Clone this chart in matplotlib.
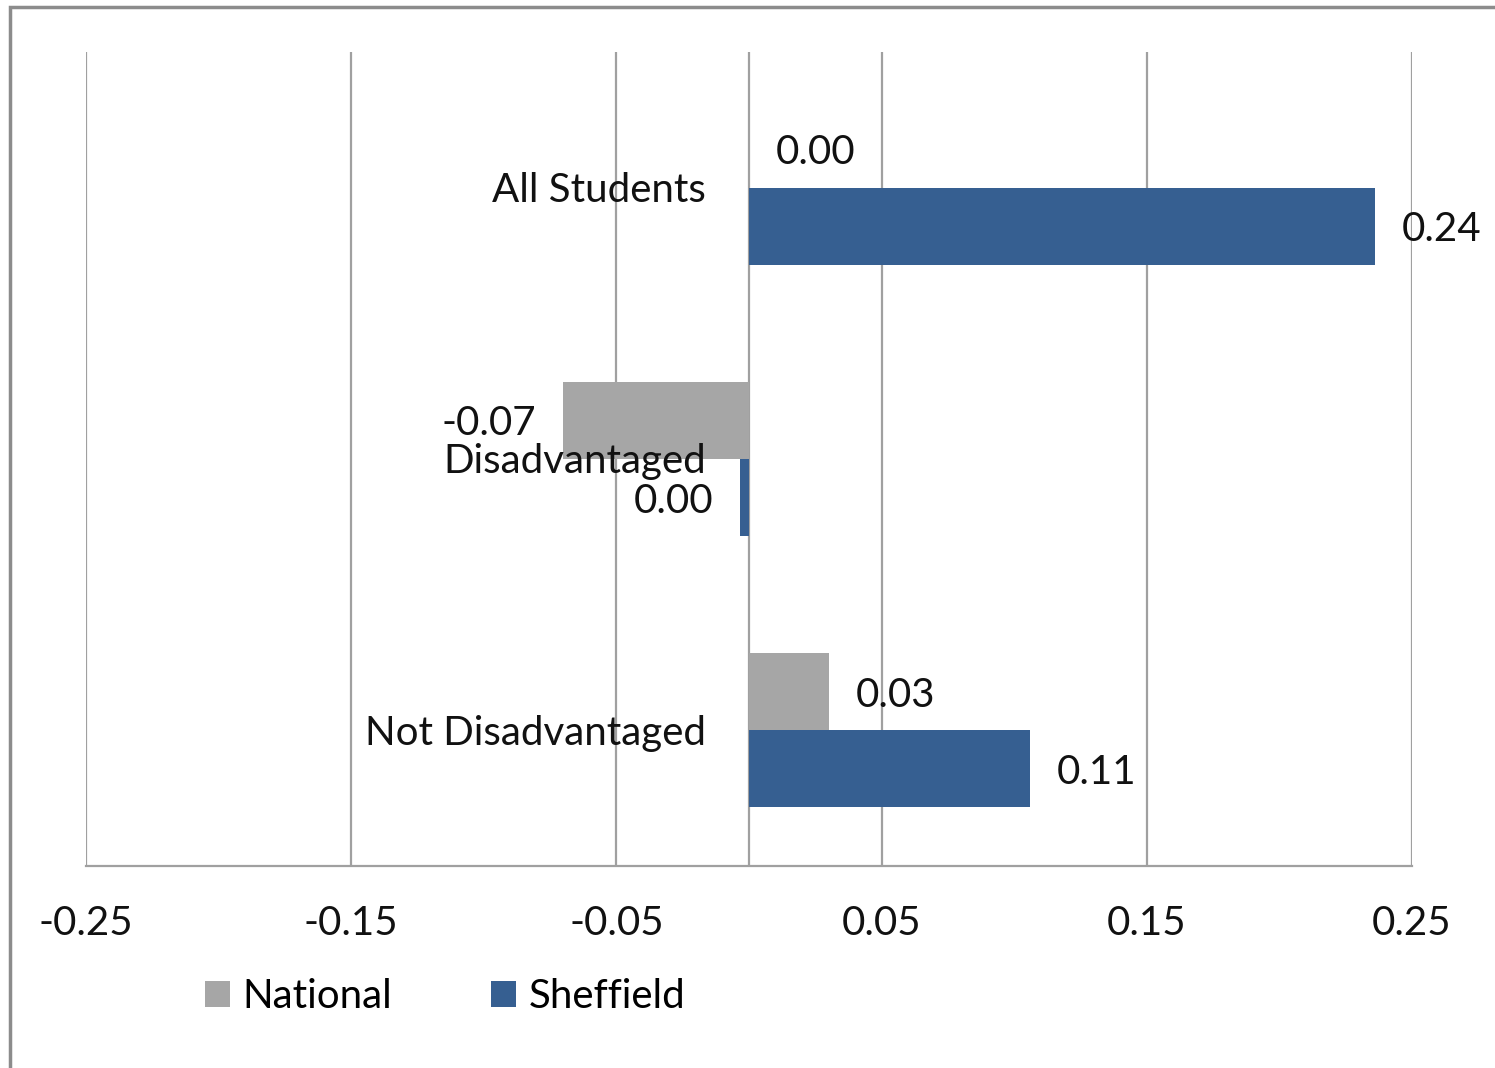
import numpy as np
import matplotlib.pyplot as plt
from matplotlib.patches import Rectangle

# data
categories = ['All Students', 'Disadvantaged', 'Not Disadvantaged']
national = [0.0, -0.07, 0.03]
sheffield = [0.236, -0.0034, 0.106]
series_names = ['National', 'Sheffield']
xticks = [-0.25, -0.15, -0.05, 0.05, 0.15, 0.25]
xtick_labels = ['-0.25', '-0.15', '-0.05', '0.05', '0.15', '0.25']

grey = '#A6A6A6'
blue = '#365F91'
grid_c = '#A0A0A0'
FS = 29

plt.rcParams['font.family'] = ['Lato', 'DejaVu Sans']


def fmt(v):
    return f"{round(v, 2) + 0.0:.2f}"


def main():
    fig = plt.figure(figsize=(14.95, 10.68), dpi=100)
    ax = fig.add_axes([86 / 1495, 1 - 866 / 1068, (1412 - 86) / 1495, (866 - 52) / 1068])

    # outer frame (cut off at right/bottom in the reference)
    fig.patches.append(Rectangle((10 / 1495, -0.1), 1.2, 1 - 7 / 1068 + 0.1,
                                 transform=fig.transFigure, fill=False,
                                 edgecolor='#8C8C8C', linewidth=2.5))

    y = np.arange(len(categories))
    h = 0.284
    b1 = ax.barh(y - h / 2, national, height=h, color=grey, label=series_names[0], zorder=2)
    b2 = ax.barh(y + h / 2, sheffield, height=h, color=blue, label=series_names[1], zorder=2)

    for bars, vals in [(b1, national), (b2, sheffield)]:
        for rect, v in zip(bars, vals):
            yc = rect.get_y() + rect.get_height() / 2
            off = 19.5 if v >= 0 else -19.5
            ax.annotate(fmt(v), (v, yc), xytext=(off, -2.5), textcoords='offset points',
                        ha='left' if v >= 0 else 'right', va='center',
                        fontsize=FS, color='#111111', zorder=4)

    # category labels sit left of the zero line
    for yi, cat in zip(y, categories):
        ax.annotate(cat, (0, yi), xytext=(-31, -2), textcoords='offset points',
                    ha='right', va='center', fontsize=FS, color='#111111', zorder=4)

    for xv in xticks + [0]:
        ax.axvline(xv, color=grid_c, linewidth=1.6, zorder=1)

    ax.set_xlim(-0.25, 0.25)
    ax.set_ylim(2.5, -0.5)
    ax.set_xticks(xticks)
    ax.set_xticklabels(xtick_labels, fontsize=FS, color='#111111')
    ax.tick_params(axis='x', length=0, pad=28)
    ax.set_yticks([])
    for s in ['top', 'left', 'right']:
        ax.spines[s].set_visible(False)
    ax.spines['bottom'].set_color(grid_c)
    ax.spines['bottom'].set_linewidth(1.6)

    fig.legend(handles=[b1, b2], loc='center left',
               bbox_to_anchor=(205 / 1495, 1 - 997 / 1068), ncol=2, frameon=False,
               fontsize=FS, handlelength=0.62, handleheight=0.62,
               handletextpad=0.32, columnspacing=2.45, borderaxespad=0, borderpad=0)

    fig.savefig('out.png', dpi=100, facecolor='white')


if __name__ == "__main__":
    main()
